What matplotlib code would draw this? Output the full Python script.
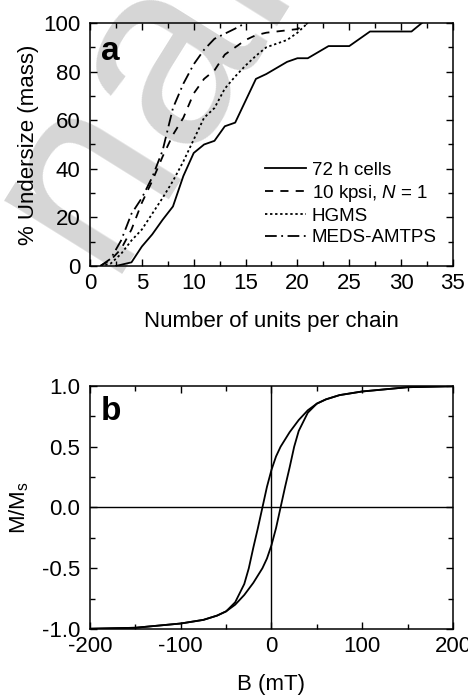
import matplotlib
matplotlib.use("Agg")
import matplotlib.pyplot as plt
from matplotlib.ticker import MultipleLocator, FormatStrFormatter

plt.rcParams['font.family'] = ['Liberation Sans', 'DejaVu Sans']
plt.rcParams['mathtext.fontset'] = 'custom'
plt.rcParams['mathtext.rm'] = 'Liberation Sans'
plt.rcParams['mathtext.it'] = 'Liberation Sans:italic'
plt.rcParams['axes.unicode_minus'] = False

# panel a: cumulative chain length distributions
units = [1, 2, 3, 4, 5, 6, 7, 8, 9, 10, 11, 12, 13, 14, 15, 16, 17, 18, 19, 20, 21]

cells_x = [2.5, 4, 5, 6, 7, 8, 9, 10, 11, 12, 13, 14, 15, 16, 17, 18, 19, 20, 21, 22, 23, 24,
           25, 26, 27, 28, 29, 30, 31, 32]
cells_y = [0, 1.5, 8, 13, 19, 24.5, 37, 46.5, 50, 51.5, 57.5, 59, 68, 77, 79, 81.5, 84, 85.5,
           85.5, 88, 90.5, 90.5, 90.5, 93.5, 96.5, 96.5, 96.5, 96.5, 96.5, 100]
kpsi_y = [0, 2.5, 7, 15, 26, 35, 45, 54, 61, 71, 77, 80.5, 87, 90, 93, 95, 96, 96.5, 97, 97.5, 100]
hgms_y = [0, 1, 5, 10.5, 15, 21.5, 28, 35, 43, 52, 61, 65, 73, 78, 82.5, 86.5, 90, 91.5, 93, 96, 100]
meds_x = [1, 2, 3, 4, 5, 6, 7, 8, 9, 10, 11, 12, 13, 14, 15]
meds_y = [0, 3, 10.5, 21.5, 28, 36.5, 47.5, 65, 75, 83, 89, 93.5, 95.6, 97.7, 100]

labels_a = ['72 h cells', '10 kpsi, $N$ = 1', 'HGMS', 'MEDS-AMTPS']

# panel b: hysteresis loop
b_down = [200, 150, 100, 75, 60, 50, 40, 30, 20, 10, 5, 0, -5, -10, -15, -20, -25, -30, -40,
          -50, -60, -75, -100, -150, -200]
m_down = [0.998, 0.99, 0.955, 0.925, 0.89, 0.855, 0.80, 0.72, 0.62, 0.50, 0.42, 0.31, 0.17, 0.0,
          -0.17, -0.33, -0.50, -0.63, -0.78, -0.855, -0.89, -0.925, -0.955, -0.99, -0.998]
b_up = [-200, -150, -100, -75, -60, -50, -40, -30, -20, -10, -5, 0, 5, 10, 15, 20, 25, 30, 40,
        50, 60, 75, 100, 150, 200]
m_up = [-0.998, -0.99, -0.955, -0.925, -0.89, -0.855, -0.80, -0.72, -0.62, -0.50, -0.42, -0.31,
        -0.17, 0.0, 0.17, 0.33, 0.50, 0.63, 0.78, 0.855, 0.89, 0.925, 0.955, 0.99, 0.998]

fig = plt.figure(figsize=(4.68, 6.97), dpi=100)

# faint watermark behind the plots
fig.text(0.30, 0.872, 'nal', fontsize=190, color='#d6d6d6', rotation=58,
         ha='center', va='center', rotation_mode='anchor', zorder=-1)

ax1 = fig.add_axes([0.1923, 0.6184, 0.7756, 0.3486])
ax2 = fig.add_axes([0.1923, 0.0976, 0.7756, 0.3486])
for ax in (ax1, ax2):
    ax.set_facecolor('none')
    for s in ax.spines.values():
        s.set_linewidth(1.1)
    ax.tick_params(which='both', direction='in', top=True, right=True, width=1.0,
                   labelsize=16)
    ax.tick_params(which='major', length=5)
    ax.tick_params(which='minor', length=3.5)
    ax.tick_params(axis='y', pad=7)
    ax.tick_params(axis='x', pad=5)

lw = 1.3
ax1.plot(cells_x, cells_y, color='black', lw=lw, ls='-', label=labels_a[0])
ax1.plot(units, kpsi_y, color='black', lw=lw, ls=(0, (4.5, 4)), label=labels_a[1])
ax1.plot(units, hgms_y, color='black', lw=lw, ls=(0, (1.3, 1.5)), label=labels_a[2])
ax1.plot(meds_x, meds_y, color='black', lw=lw, ls=(0, (6.5, 2.5, 1, 2.5)), label=labels_a[3])
ax1.set_xlim(0, 35)
ax1.set_ylim(0, 100)
ax1.xaxis.set_major_locator(MultipleLocator(5))
ax1.xaxis.set_minor_locator(MultipleLocator(2.5))
ax1.yaxis.set_major_locator(MultipleLocator(20))
ax1.yaxis.set_minor_locator(MultipleLocator(10))
ax1.set_xlabel('Number of units per chain', fontsize=16, labelpad=12)
ax1.set_ylabel('% Undersize (mass)', fontsize=16, labelpad=3)
ax1.text(0.03, 0.945, 'a', transform=ax1.transAxes, fontsize=24, fontweight='bold',
         ha='left', va='top')
ax1.legend(loc='upper left', bbox_to_anchor=(0.482, 0.43), frameon=False, fontsize=13.5,
           handlelength=2.2, handletextpad=0.3, labelspacing=0.22, borderpad=0,
           borderaxespad=0)

ax2.axhline(0, color='black', lw=1.0)
ax2.axvline(0, color='black', lw=1.0)
ax2.plot(b_down, m_down, color='black', lw=lw)
ax2.plot(b_up, m_up, color='black', lw=lw)
ax2.set_xlim(-200, 200)
ax2.set_ylim(-1.0, 1.0)
ax2.xaxis.set_major_locator(MultipleLocator(100))
ax2.xaxis.set_minor_locator(MultipleLocator(50))
ax2.yaxis.set_major_locator(MultipleLocator(0.5))
ax2.yaxis.set_minor_locator(MultipleLocator(0.25))
ax2.yaxis.set_major_formatter(FormatStrFormatter('%.1f'))
ax2.set_xlabel('B (mT)', fontsize=16, labelpad=12)
ax2.set_ylabel('M/M$_\\mathregular{s}$', fontsize=16, labelpad=8)
ax2.text(0.03, 0.96, 'b', transform=ax2.transAxes, fontsize=24, fontweight='bold',
         ha='left', va='top')

fig.savefig('out.png', dpi=100)
